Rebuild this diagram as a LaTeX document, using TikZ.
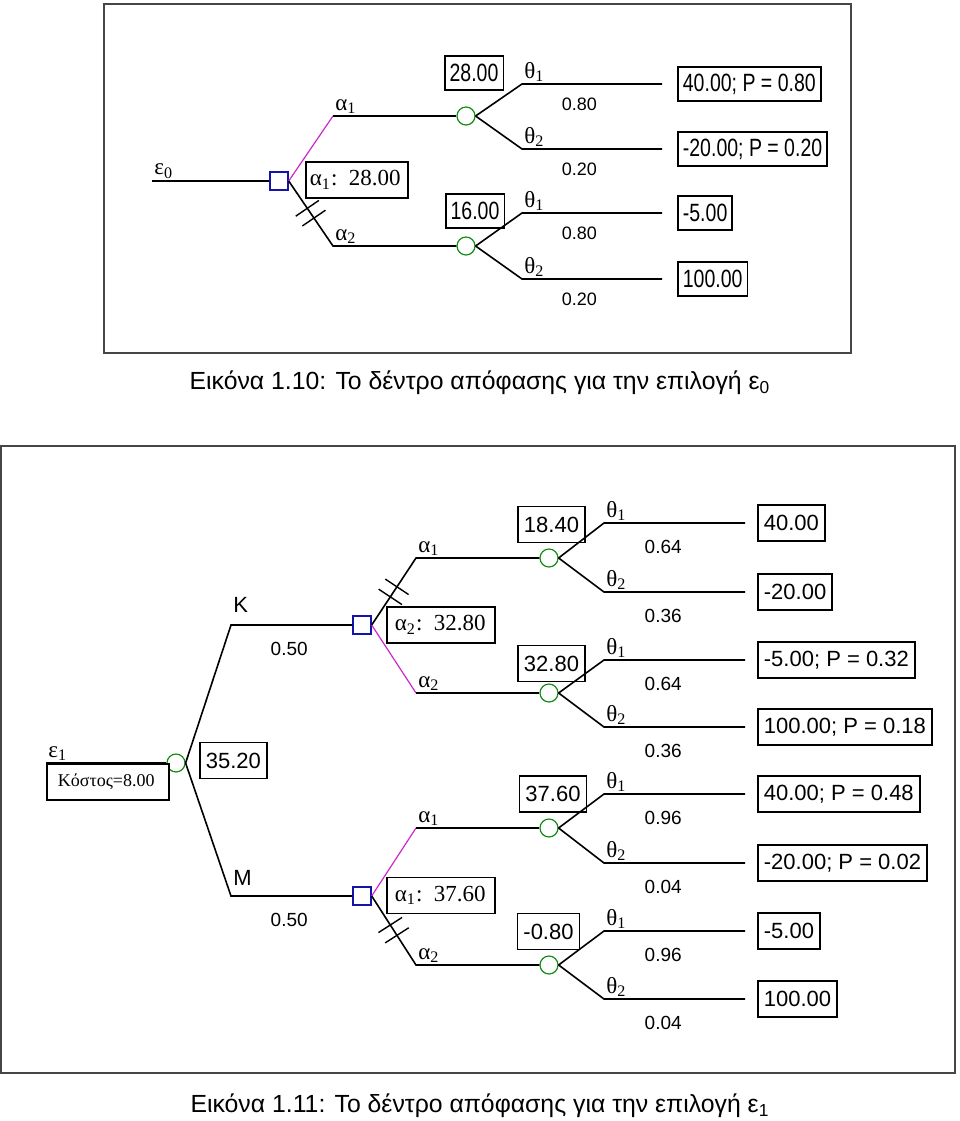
\documentclass[tikz,border=0pt]{standalone}
\usepackage{fontspec}
\setmainfont{Liberation Serif}
\setsansfont{Liberation Sans}
\newfontfamily\estreita[FakeStretch=0.78]{Liberation Sans}
\usepackage{tikz}
\usetikzlibrary{calc,positioning}
\definecolor{azuldecisao}{RGB}{20,20,170}
\definecolor{verdeacaso}{RGB}{20,140,20}
\definecolor{magentaramo}{RGB}{204,40,204}
\definecolor{cinzamoldura}{RGB}{70,70,70}
\tikzset{
  decisao/.style={rectangle,draw=azuldecisao,line width=0.7pt,minimum size=9pt,
    inner sep=0pt},
  acaso/.style={circle,draw=verdeacaso,line width=0.6pt,minimum size=9pt,
    inner sep=0pt},
  ramo/.style={line width=0.8pt,black},
  escolhido/.style={line width=0.6pt,magentaramo},
  corte/.style={line width=0.7pt,black},
  valorA/.style={rectangle,draw,line width=0.9pt,fill=white,inner xsep=2.5pt,
    minimum height=17pt,font=\estreita\fontsize{12.5}{13}\selectfont},
  valorB/.style={rectangle,draw,line width=0.9pt,fill=white,inner xsep=3pt,
    minimum height=18pt,font=\sffamily\fontsize{11}{12}\selectfont},
  otimo/.style={rectangle,draw,line width=0.9pt,fill=white,anchor=west,
    inner xsep=2pt,minimum height=18pt,font=\fontsize{11.5}{12}\selectfont},
  custo/.style={rectangle,draw,line width=0.9pt,fill=white,anchor=north west,
    inner xsep=5.5pt,minimum height=18pt,text width=50pt,
    font=\fontsize{9}{10}\selectfont},
  rotulo/.style={anchor=south west,inner sep=1pt,font=\fontsize{11.5}{12}\selectfont},
  letra/.style={anchor=south west,inner sep=1pt,font=\sffamily\fontsize{11}{12}\selectfont},
  probA/.style={below,yshift=-3pt,font=\sffamily\fontsize{9}{10}\selectfont},
  probB/.style={below,yshift=-5pt,font=\sffamily\fontsize{9.5}{10}\selectfont},
  moldura/.style={draw=cinzamoldura,line width=1pt},
  legenda/.style={font=\sffamily\fontsize{12.4}{14}\selectfont}
}
\begin{document}
\begin{tikzpicture}[x=0.5pt,y=-0.5pt]
  \useasboundingbox (0,0) rectangle (960,1121);
  % arvore para e0
  \draw[moldura] (104,4) rectangle (851,353);
  \coordinate (e0) at (152,181);
  \node[decisao] (d0) at (279,181) {};
  \coordinate (a1) at (333,116);
  \coordinate (a2) at (333,246);
  \node[acaso] (c1) at (466,116) {};
  \node[acaso] (c2) at (466,246) {};
  \draw[ramo] (e0) -- (d0.west);
  \draw[escolhido] (d0.east) -- (a1);
  \draw[ramo] (a1) -- (c1.west);
  \draw[ramo] (d0.east) -- (a2) -- (c2.west);
  \node[rotulo] (e0lab) at (e0) {ε\textsubscript{0}};
  \node[rotulo] (a1lab) at (a1) {α\textsubscript{1}};
  \node[rotulo] (a2lab) at (a2) {α\textsubscript{2}};
  \node[otimo,text width=47pt] (o0) at (305,180) {α\textsubscript{1}: 28.00};
  \node[valorA] (v1) at (474,73) {28.00};
  \node[valorA] (v2) at (475,211) {16.00};
  \foreach \c/\ya/\yb/\pa/\pb/\va/\vb in
    {c1/84/149/0.80/0.20/{40.00; P = 0.80}/{-20.00; P = 0.20},
     c2/213/279/0.80/0.20/{-5.00}/{100.00}}
  {
    \coordinate (\c t1) at (522,\ya);
    \coordinate (\c t2) at (522,\yb);
    \coordinate (\c f1) at (662,\ya);
    \coordinate (\c f2) at (662,\yb);
    \draw[ramo] (\c.east) -- (\c t1) -- node[probA,pos=.41] (\c p1) {\pa} (\c f1);
    \draw[ramo] (\c.east) -- (\c t2) -- node[probA,pos=.41] (\c p2) {\pb} (\c f2);
    \node[rotulo] (\c th1) at (\c t1) {θ\textsubscript{1}};
    \node[rotulo] (\c th2) at (\c t2) {θ\textsubscript{2}};
    \node[valorA,anchor=west] (\c g1) at (677,\ya) {\va};
    \node[valorA,anchor=west] (\c g2) at (677,\yb) {\vb};
  }
  \node[legenda] (leg0) at (480,383)
    {Εικόνα 1.10: Το δέντρο απόφασης για την επιλογή ε\textsubscript{0}};

  % arvore para e1
  \draw[moldura] (1,446) rectangle (955,1073);
  \coordinate (e1) at (46,763);
  \node[acaso] (c0) at (176,763) {};
  \coordinate (k) at (231,625);
  \coordinate (m) at (231,896);
  \node[decisao] (dK) at (362,625) {};
  \node[decisao] (dM) at (362,896) {};
  \coordinate (k1) at (416,558);
  \coordinate (k2) at (416,693);
  \coordinate (m1) at (416,828);
  \coordinate (m2) at (416,965);
  \node[acaso] (c11) at (549,558) {};
  \node[acaso] (c12) at (549,693) {};
  \node[acaso] (c21) at (549,828) {};
  \node[acaso] (c22) at (549,965) {};
  \draw[ramo] (e1) -- (c0.west);
  \node[custo] (custo) at (e1) {Κόστος=8.00};
  \draw[ramo] (c0.east) -- (k) -- node[probB,pos=.48] (pk) {0.50} (dK.west);
  \draw[ramo] (c0.east) -- (m) -- node[probB,pos=.48] (pm) {0.50} (dM.west);
  \draw[ramo] (dK.east) -- (k1) -- (c11.west);
  \draw[escolhido] (dK.east) -- (k2);
  \draw[ramo] (k2) -- (c12.west);
  \draw[escolhido] (dM.east) -- (m1);
  \draw[ramo] (m1) -- (c21.west);
  \draw[ramo] (dM.east) -- (m2) -- (c22.west);
  \node[rotulo] (e1lab) at (e1) {ε\textsubscript{1}};
  \node[letra,yshift=5pt] (klab) at (k) {K};
  \node[letra,yshift=4pt] (mlab) at (m) {M};
  \node[rotulo] (k1lab) at (k1) {α\textsubscript{1}};
  \node[rotulo] (k2lab) at (k2) {α\textsubscript{2}};
  \node[rotulo] (m1lab) at (m1) {α\textsubscript{1}};
  \node[rotulo] (m2lab) at (m2) {α\textsubscript{2}};
  \node[valorB,anchor=west] (v0) at (199,760.5) {35.20};
  \node[otimo,text width=50pt] (oK) at (386,625) {\hspace{2pt}α\textsubscript{2}: 32.80};
  \node[otimo,text width=50pt] (oM) at (386,895.5) {\hspace{2pt}α\textsubscript{1}: 37.60};
  \node[valorB] (v11) at (551.5,524.5) {18.40};
  \node[valorB] (v12) at (551.5,663.5) {32.80};
  \node[valorB] (v21) at (553,794) {37.60};
  \node[valorB] (v22) at (548.5,931.5) {-0.80};
  \foreach \c/\ya/\yb/\pa/\pb/\va/\vb in
    {c11/523/592/0.64/0.36/{40.00}/{-20.00},
     c12/660/727/0.64/0.36/{-5.00; P = 0.32}/{100.00; P = 0.18},
     c21/794/863/0.96/0.04/{40.00; P = 0.48}/{-20.00; P = 0.02},
     c22/931/999/0.96/0.04/{-5.00}/{100.00}}
  {
    \coordinate (\c t1) at (604,\ya);
    \coordinate (\c t2) at (604,\yb);
    \coordinate (\c f1) at (745,\ya);
    \coordinate (\c f2) at (745,\yb);
    \draw[ramo] (\c.east) -- (\c t1) -- node[probB,pos=.42] (\c p1) {\pa} (\c f1);
    \draw[ramo] (\c.east) -- (\c t2) -- node[probB,pos=.42] (\c p2) {\pb} (\c f2);
    \node[rotulo] (\c th1) at (\c t1) {θ\textsubscript{1}};
    \node[rotulo] (\c th2) at (\c t2) {θ\textsubscript{2}};
    \node[valorB,anchor=west] (\c g1) at (757,\ya) {\va};
    \node[valorB,anchor=west] (\c g2) at (757,\yb) {\vb};
  }
  % ramos cortados
  \foreach \ini/\fim in {d0/a2,dK/k1,dM/m2}
    \foreach \t in {0.42,0.57}
      \draw[corte] ($(\ini.east)!\t!(\fim)!7pt!90:(\fim)$)
        -- ($(\ini.east)!\t!(\fim)!7pt!-90:(\fim)$);
  \node[legenda] (leg1) at (480,1106)
    {Εικόνα 1.11: Το δέντρο απόφασης για την επιλογή ε\textsubscript{1}};
\end{tikzpicture}
\end{document}
